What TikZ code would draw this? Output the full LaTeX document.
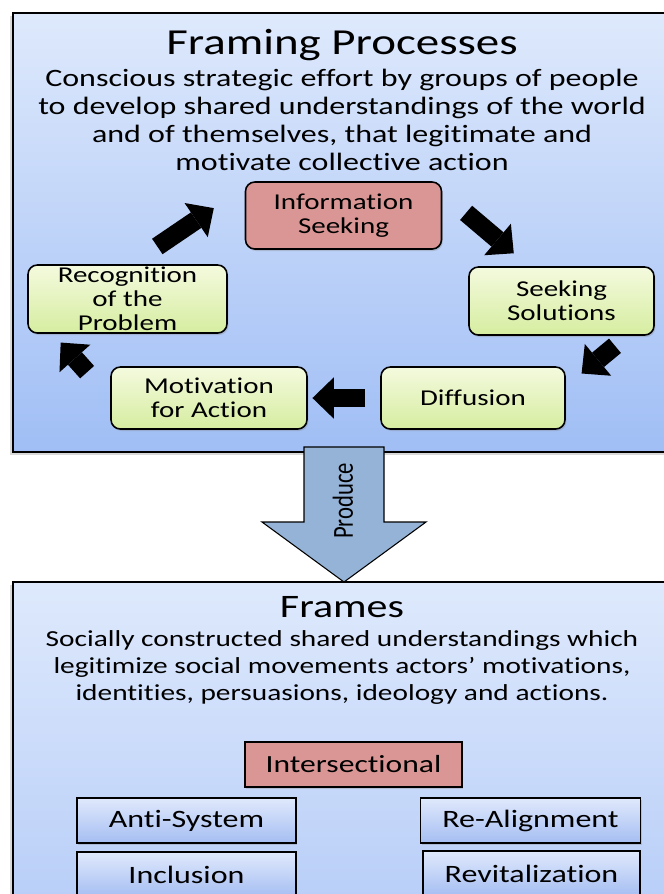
\documentclass[tikz,border=0pt]{standalone}
\usepackage{fontspec}
\setmainfont{Carlito}[FakeStretch=1.28, Ligatures=NoCommon]
\newfontfamily\plainfont{Carlito}
\usetikzlibrary{arrows.meta,shadows}

\definecolor{paneltop}{RGB}{222,233,252}
\definecolor{panelbot}{RGB}{160,190,245}
\definecolor{panelbotb}{RGB}{184,206,248}
\definecolor{stagerose}{RGB}{217,150,148}
\definecolor{stagegreentop}{RGB}{244,250,222}
\definecolor{stagegreenbot}{RGB}{214,237,160}
\definecolor{frametop}{RGB}{224,233,252}
\definecolor{framebot}{RGB}{165,190,242}
\definecolor{producefill}{RGB}{149,179,215}

\begin{document}
\begin{tikzpicture}[x=0.75pt,y=0.75pt,yscale=-1,xscale=1,
  panel/.style={draw=black, line width=1.2pt, drop shadow={shadow xshift=-2pt, shadow yshift=-2pt, opacity=0.3}},
  stage/.style={draw=black, line width=1.2pt, rounded corners=7pt, align=center, inner sep=0pt, font=\fontsize{17}{18}\selectfont, drop shadow={shadow xshift=1pt, shadow yshift=-1.5pt, opacity=0.3}},
  greenstage/.style={stage, top color=stagegreentop, bottom color=stagegreenbot},
  redstage/.style={stage, fill=stagerose},
  framebox/.style={draw=black, line width=1.2pt, inner sep=0pt, font=\fontsize{18.75}{20}\selectfont, minimum height=33.75pt, drop shadow={shadow xshift=1pt, shadow yshift=-1.5pt, opacity=0.3}},
  bluebox/.style={framebox, top color=frametop, bottom color=framebot},
  cyclearrow/.style={line width=14pt, -{Triangle[width=31pt,length=16pt,line width=0pt]}}
]
\useasboundingbox (0,0) rectangle (664,894);
\clip (0,0) rectangle (664,894);

%Shape: Rectangle [framing processes]
\draw [panel, top color=paneltop, bottom color=panelbot] (13,13) rectangle (671,452);
%Shape: Rectangle [frames]
\draw [panel, top color=paneltop, bottom color=panelbotb] (13,582) rectangle (671,910);

%Shape: Down Arrow [produce]
\draw [fill=producefill, line width=0.8pt] (304,447) -- (384,447) -- (384,522) -- (426,522) -- (344,582) -- (262,522) -- (304,522) -- cycle ;
% Text Node
\node [rotate=90, font=\plainfont\fontsize{17}{18}\selectfont] (produce) at (343,501) {\scalebox{1}[1.28]{Produce}};

% Text Node
\node [font=\fontsize{27.5}{33}\selectfont] (proctitle) at (342,45) {Framing Processes};
% Text Node
\node [align=center, font=\fontsize{18.75}{21}\selectfont] (procdesc) at (342,120) {Conscious strategic effort by groups of people\\to develop shared understandings of the world\\and of themselves, that legitimate and\\motivate collective action};

%Shape: Rounded Rectangle [cycle]
\node [redstage, minimum width=147pt, minimum height=50.25pt] (info) at (343.5,215.5) {Information\\Seeking};
\node [greenstage, minimum width=149.25pt, minimum height=51pt] (recog) at (127.5,299) {Recognition\\of the\\Problem};
\node [greenstage, minimum width=138.75pt, minimum height=51pt] (seek) at (561.5,301) {Seeking\\Solutions};
\node [greenstage, minimum width=147pt, minimum height=46.5pt] (motiv) at (209,398) {Motivation\\for Action};
\node [greenstage, minimum width=138pt, minimum height=46.5pt] (diff) at (473,398) {Diffusion};

%Block Arrows
\draw [cyclearrow, shorten <=23.7pt, shorten >=28pt] (recog.84) -- (info.164) ;
\draw [cyclearrow, shorten <=23.4pt, shorten >=15pt] (info.13) -- (seek.133) ;
\draw [cyclearrow, shorten <=11.7pt, shorten >=15.4pt] (seek.-28) -- (diff.7) ;
\draw [cyclearrow, shorten <=11.25pt, shorten >=3.5pt] (diff.west) -- (motiv.east) ;
\draw [cyclearrow, shorten <=26pt, shorten >=8.8pt] (motiv.west) -- (recog.205) ;

% Text Node
\node [font=\fontsize{24.6}{30}\selectfont] (frtitle) at (342,607.5) {Frames};
% Text Node
\node [align=center, font=\fontsize{17.2}{20.25}\selectfont] (frdesc) at (342,667) {Socially constructed shared understandings which\\legitimize social movements actors’ motivations,\\identities, persuasions, ideology and actions.};

%Shape: Rectangle [frame types]
\node [framebox, fill=stagerose, minimum width=162.75pt, font=\fontsize{18.5}{20}\selectfont] (inter) at (353.5,764.5) {Intersectional};
\node [bluebox, minimum width=164.25pt] (antisys) at (186.5,820.5) {Anti-System};
\node [bluebox, minimum width=164.25pt] (inclus) at (186.5,874.5) {Inclusion};
\node [bluebox, minimum width=165pt] (realign) at (530.5,820.5) {Re-Alignment};
\node [bluebox, minimum width=162.75pt] (revital) at (531.5,873.5) {Revitalization};

\end{tikzpicture}
\end{document}
